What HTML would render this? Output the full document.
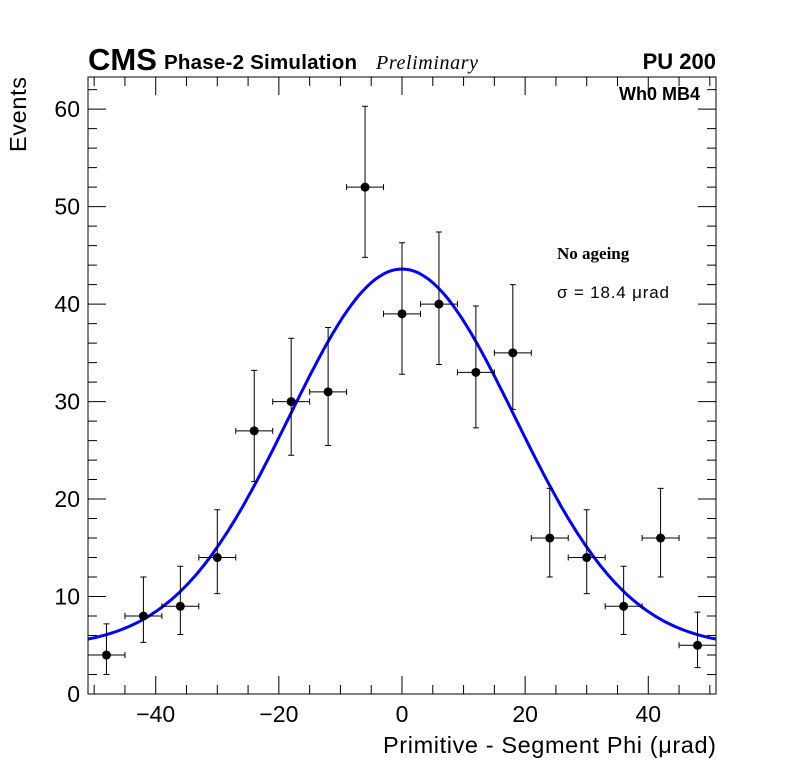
<!DOCTYPE html>
<html><head><meta charset="utf-8"><style>
body{margin:0;background:#fff}
svg text{font-family:"Liberation Sans",sans-serif}
</style></head><body>
<svg id="c" width="796" height="772" xmlns="http://www.w3.org/2000/svg">
<rect x="0" y="0" width="796" height="772" fill="#fff"/>
<g id="axes"></g>
<g id="marks"></g>
<text x="88" y="70" font-size="31" font-weight="bold">CMS</text>
<text x="164" y="69" font-size="20.5" font-weight="bold" textLength="193">Phase-2 Simulation</text>
<text x="376" y="69" font-size="20" font-style="italic" textLength="102" style="font-family:'Liberation Serif',serif">Preliminary</text>
<text x="716" y="69" font-size="22" font-weight="bold" text-anchor="end">PU 200</text>
<text x="700" y="100" font-size="18" font-weight="bold" text-anchor="end">Wh0 MB4</text>
<text x="557" y="259" font-size="17" font-weight="bold" style="font-family:'Liberation Serif',serif">No ageing</text>
<text x="557" y="298" font-size="17" textLength="112">σ = 18.4 μrad</text>
<text x="716" y="753" font-size="23.5" text-anchor="end" textLength="333">Primitive - Segment Phi (μrad)</text>
<text transform="translate(26,77) rotate(-90)" font-size="23.5" text-anchor="end" textLength="75">Events</text>
</svg>
<script>
const binCenters=[-48,-42,-36,-30,-24,-18,-12,-6,0,6,12,18,24,30,36,42,48];
const counts=[4,8,9,14,27,30,31,52,39,40,33,35,16,14,9,16,5];
const errUp=[3.2,4,4.1,4.9,6.2,6.5,6.6,8.3,7.3,7.4,6.8,7,5.1,4.9,4.1,5.1,3.4];
const errDown=[2,2.7,2.9,3.7,5.2,5.5,5.5,7.2,6.2,6.2,5.7,5.8,4,3.7,2.9,4,2.3];
const binHalfWidth=3;
const fitAmp=[38.8];const fitMean=[0];const fitSigma=[18.4];const fitConst=[4.8];
const xTicks=[-40,-20,0,20,40];const yTicks=[0,10,20,30,40,50,60];
const X0=88,X1=716,Y0=694,Y1=77,xmin=-51,xmax=51,ymin=0,ymax=63.3;
const sx=v=>X0+(v-xmin)/(xmax-xmin)*(X1-X0);
const sy=v=>Y0-(v-ymin)/(ymax-ymin)*(Y0-Y1);
const NS="http://www.w3.org/2000/svg";
function mk(p,t,a){const e=document.createElementNS(NS,t);for(const k in a)e.setAttribute(k,a[k]);p.appendChild(e);return e;}
const ax=document.getElementById('axes'),mg=document.getElementById('marks');
const fr=mk(ax,'rect',{x:X0,y:Y1,width:X1-X0,height:Y0-Y1,fill:'none',stroke:'#000','stroke-width':1});


let d='';
for(let v=-50;v<=50;v+=5){const x=sx(v);const L=(v%20===0)?18:9;d+=`M${x},${Y0}v${-L}M${x},${Y1}v${L}`;}
for(let v=0;v<=62;v+=2){const y=sy(v);const L=(v%10===0)?18:9;d+=`M${X0},${y}h${L}M${X1},${y}h${-L}`;}
const tk=mk(ax,'path',{d:d,stroke:'#000','stroke-width':1,fill:'none'});


xTicks.forEach(v=>{const t=mk(ax,'text',{x:sx(v),y:722,'font-size':23,'text-anchor':'middle'});t.textContent=v<0?'\u2212'+(-v):v;

});
yTicks.forEach(v=>{const t=mk(ax,'text',{x:80,y:sy(v)+8,'font-size':23,'text-anchor':'end'});t.textContent=v;

});
let pd='';for(let i=0;i<=200;i++){const v=xmin+(xmax-xmin)*i/200;const f=fitAmp[0]*Math.exp(-Math.pow(v-fitMean[0],2)/(2*fitSigma[0]*fitSigma[0]))+fitConst[0];pd+=(i?'L':'M')+sx(v).toFixed(1)+','+sy(f).toFixed(1);}
const cv=mk(mg,'path',{d:pd,stroke:'#0000ff','stroke-width':3,fill:'none'});


binCenters.forEach((c,i)=>{const g=mk(mg,'g',{});


const x=sx(c),y=sy(counts[i]);
mk(g,'path',{d:`M${sx(c-binHalfWidth)},${y}H${x-4}M${x+4},${y}H${sx(c+binHalfWidth)}M${sx(c-binHalfWidth)},${y-3}v6M${sx(c+binHalfWidth)},${y-3}v6M${x},${sy(counts[i]+errUp[i])}V${y-4}M${x},${y+4}V${sy(counts[i]-errDown[i])}M${x-3},${sy(counts[i]+errUp[i])}h6M${x-3},${sy(counts[i]-errDown[i])}h6`,stroke:'#000','stroke-width':1,fill:'none'});
mk(g,'circle',{cx:x,cy:y,r:4.5,fill:'#000'});});
</script>
</body></html>
